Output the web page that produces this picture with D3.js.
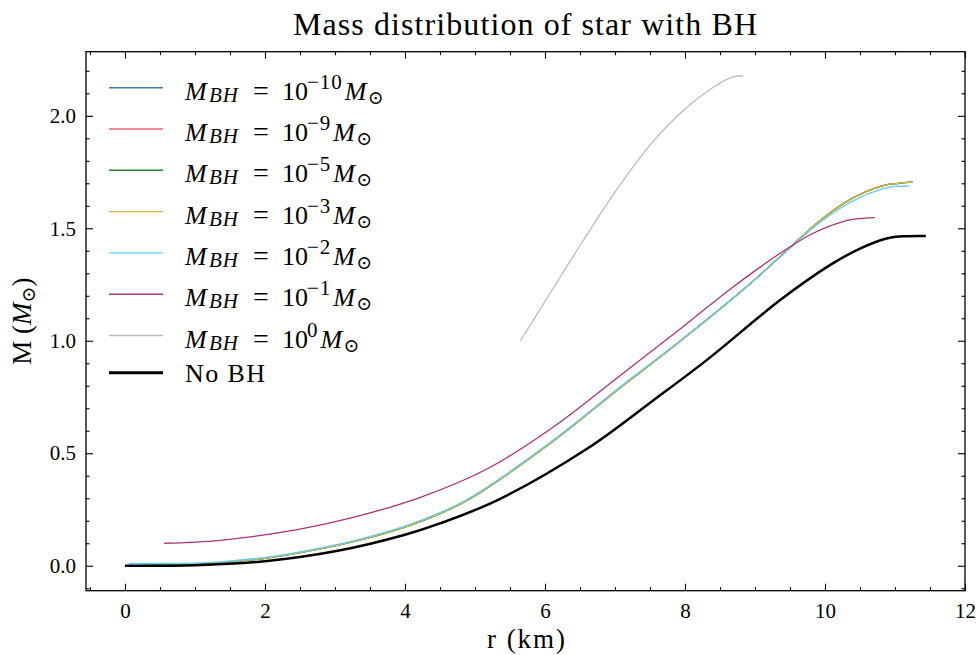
<!DOCTYPE html>
<html>
<head>
<meta charset="utf-8">
<script src="https://cdn.jsdelivr.net/npm/d3@7"></script>
<style>
  body { margin: 0; background: #fff; }
  svg { display: block; font-family: "Liberation Serif", "DejaVu Serif", serif; }
</style>
</head>
<body>
<div id="chart"></div>
<script>
// radius (km) and enclosed mass (M_sun)
const rMain = [0, 1, 1.36, 2, 2.5, 3.26, 4, 4.5, 4.93, 6.12, 7.07, 7.93, 8.88, 9.45, 9.93, 10.4, 10.83, 11.05, 11.25];
const mMain = [0, 0.006, 0.013, 0.033, 0.058, 0.107, 0.172, 0.232, 0.298, 0.555, 0.79, 0.998, 1.24, 1.40, 1.535, 1.635, 1.69, 1.70, 1.705];

const rE2 = [0.06, 1, 1.36, 2, 2.5, 3.26, 4, 4.5, 4.93, 6.12, 7.07, 7.93, 8.88, 9.45, 9.93, 10.4, 10.83, 11.0, 11.2];
const mE2 = [0.01, 0.012, 0.017, 0.037, 0.062, 0.111, 0.176, 0.236, 0.302, 0.559, 0.794, 1.0, 1.24, 1.398, 1.527, 1.622, 1.676, 1.686, 1.688];

const rE1 = [0.56, 1.36, 2.5, 3.26, 4.21, 5.17, 6.12, 7.07, 7.93, 8.64, 9.36, 9.83, 10.26, 10.5, 10.71];
const mE1 = [0.1, 0.113, 0.163, 0.215, 0.303, 0.43, 0.617, 0.845, 1.052, 1.228, 1.389, 1.478, 1.53, 1.543, 1.547];

const rE0 = [5.65, 6.07, 6.55, 7.02, 7.5, 7.98, 8.45, 8.69, 8.83];
const mE0 = [1.0, 1.21, 1.448, 1.67, 1.87, 2.025, 2.136, 2.173, 2.178];

const rNoBH = [0, 1, 2, 3, 4, 4.5, 5.33, 6.6, 7.55, 8.31, 9.36, 10.07, 10.5, 10.88, 11.17, 11.44];
const mNoBH = [0, 0.0025, 0.02, 0.064, 0.138, 0.188, 0.293, 0.52, 0.736, 0.914, 1.181, 1.336, 1.41, 1.455, 1.465, 1.466];

const seriesNames = ['-10', '-9', '-5', '-3', '-2', '-1', '0', 'none'];
const seriesColors = ['#4477AA', '#EE6677', '#228833', '#CCBB44', '#66CCEE', '#AA3377', '#BBBBBB', '#000000'];
const seriesR = [rMain, rMain, rMain, rMain, rE2, rE1, rE0, rNoBH];
const seriesM = [mMain, mMain, mMain, mMain, mE2, mE1, mE0, mNoBH];

const xTicks = [0, 2, 4, 6, 8, 10, 12];
const yTicks = [0.0, 0.5, 1.0, 1.5, 2.0];

const W = 976, H = 655;
const plotL = 86, plotR = 965, plotT = 51.7, plotB = 590.7;

const svg = d3.select('#chart').append('svg')
  .attr('width', W).attr('height', H);

const x = d3.scaleLinear().domain([-0.557, 12.0]).range([plotL, plotR]);
const y = d3.scaleLinear().domain([-0.111, 2.285]).range([plotB, plotT]);

svg.append('defs').append('clipPath').attr('id', 'plot-clip')
  .append('rect').attr('x', plotL).attr('y', plotT)
  .attr('width', plotR - plotL).attr('height', plotB - plotT);

// lines
const line = d3.line()
  .curve(d3.curveCatmullRom.alpha(0.5))
  .x(d => x(d[0]))
  .y(d => y(d[1]));

const gLines = svg.append('g').attr('clip-path', 'url(#plot-clip)');
seriesNames.forEach((name, i) => {
  const pts = seriesR[i].map((r, j) => [r, seriesM[i][j]]);
  gLines.append('path')
    .attr('d', line(pts))
    .attr('fill', 'none')
    .attr('stroke', seriesColors[i])
    .attr('stroke-width', name === 'none' ? 2.5 : 1.3)
    .attr('stroke-linejoin', 'round');
});

// axes, ticks pointing inward on all four sides
const xMinor = d3.range(-0.5, 12.01, 0.5).filter(v => !xTicks.includes(v));
const yMinor = d3.range(-0.1, 2.281, 0.1).map(v => +v.toFixed(1)).filter(v => !yTicks.includes(v));

const tickStyle = g => {
  g.select('.domain').remove();
  g.selectAll('.tick line').attr('stroke', '#000').attr('stroke-width', 1.1);
};

svg.append('g').attr('transform', 'translate(0,' + plotB + ')')
  .call(d3.axisBottom(x).tickValues(xTicks).tickSize(-7).tickPadding(12).tickFormat(d3.format('d')))
  .call(tickStyle)
  .call(g => g.selectAll('.tick text').attr('font-size', 21).attr('fill', '#000')
    .attr('font-family', '"Liberation Serif", serif'));
svg.append('g').attr('transform', 'translate(0,' + plotB + ')')
  .call(d3.axisBottom(x).tickValues(xMinor).tickSize(-3.5).tickFormat(''))
  .call(tickStyle);
svg.append('g').attr('transform', 'translate(0,' + plotT + ')')
  .call(d3.axisTop(x).tickValues(xTicks).tickSize(-7).tickFormat(''))
  .call(tickStyle);
svg.append('g').attr('transform', 'translate(0,' + plotT + ')')
  .call(d3.axisTop(x).tickValues(xMinor).tickSize(-3.5).tickFormat(''))
  .call(tickStyle);

svg.append('g').attr('transform', 'translate(' + plotL + ',0)')
  .call(d3.axisLeft(y).tickValues(yTicks).tickSize(-7).tickPadding(10).tickFormat(d3.format('.1f')))
  .call(tickStyle)
  .call(g => g.selectAll('.tick text').attr('font-size', 21).attr('fill', '#000')
    .attr('font-family', '"Liberation Serif", serif'));
svg.append('g').attr('transform', 'translate(' + plotL + ',0)')
  .call(d3.axisLeft(y).tickValues(yMinor).tickSize(-3.5).tickFormat(''))
  .call(tickStyle);
svg.append('g').attr('transform', 'translate(' + plotR + ',0)')
  .call(d3.axisRight(y).tickValues(yTicks).tickSize(-7).tickFormat(''))
  .call(tickStyle);
svg.append('g').attr('transform', 'translate(' + plotR + ',0)')
  .call(d3.axisRight(y).tickValues(yMinor).tickSize(-3.5).tickFormat(''))
  .call(tickStyle);

// frame
svg.append('rect')
  .attr('x', plotL).attr('y', plotT)
  .attr('width', plotR - plotL).attr('height', plotB - plotT)
  .attr('fill', 'none').attr('stroke', '#000').attr('stroke-width', 1.3);

// title and axis labels
svg.append('text')
  .attr('x', 293).attr('y', 35)
  .attr('font-size', 32)
  .attr('textLength', 464).attr('lengthAdjust', 'spacing')
  .text('Mass distribution of star with BH');

svg.append('text')
  .attr('x', 487).attr('y', 648)
  .attr('font-size', 27)
  .attr('textLength', 78).attr('lengthAdjust', 'spacing')
  .text('r (km)');

const yl = svg.append('text')
  .attr('transform', 'translate(31,' + ((plotT + plotB) / 2) + ') rotate(-90)')
  .attr('text-anchor', 'middle').attr('font-size', 27);
yl.append('tspan').text('M (');
yl.append('tspan').attr('font-style', 'italic').text('M');
yl.append('tspan').attr('font-size', 19).attr('dy', 4).text('\u2299');
yl.append('tspan').attr('dy', -4).text(')');

// legend
const legendRowY = [87.7, 129, 170.3, 211.6, 252.9, 294.2, 335.5, 372.7];
const legend = svg.append('g');
seriesNames.forEach((name, i) => {
  const ly = legendRowY[i];
  legend.append('line')
    .attr('x1', 109).attr('x2', 163).attr('y1', ly).attr('y2', ly)
    .attr('stroke', seriesColors[i])
    .attr('stroke-width', name === 'none' ? 3 : 1.4);
  if (name === 'none') {
    legend.append('text').attr('x', 185).attr('y', ly + 9)
      .attr('font-size', 26)
      .attr('textLength', 80).attr('lengthAdjust', 'spacing')
      .text('No BH');
    return;
  }
  const base = ly + 12;
  const t = legend.append('text').attr('y', base).attr('font-size', 26);
  t.append('tspan').attr('x', 185).attr('font-style', 'italic').text('M');
  t.append('tspan').attr('x', 209).attr('y', base + 2).attr('font-style', 'italic')
    .attr('font-size', 21).attr('letter-spacing', 1).text('BH');
  t.append('tspan').attr('x', 253).attr('y', base).attr('font-size', 28).text('=');
  t.append('tspan').attr('x', 282).attr('y', base).text('10');
  const sup = t.append('tspan').attr('x', 307).attr('y', base - 11)
    .attr('font-size', 21).attr('letter-spacing', 1)
    .text(name.replace('-', '\u2212'));
  const supW = sup.node().getComputedTextLength();
  const mx = 307 + supW + 2;
  t.append('tspan').attr('x', mx).attr('y', base).attr('font-style', 'italic').text('M');
  t.append('tspan').attr('x', mx + 23).attr('y', base + 4).attr('font-size', 19).text('\u2299');
});
</script>
</body>
</html>
